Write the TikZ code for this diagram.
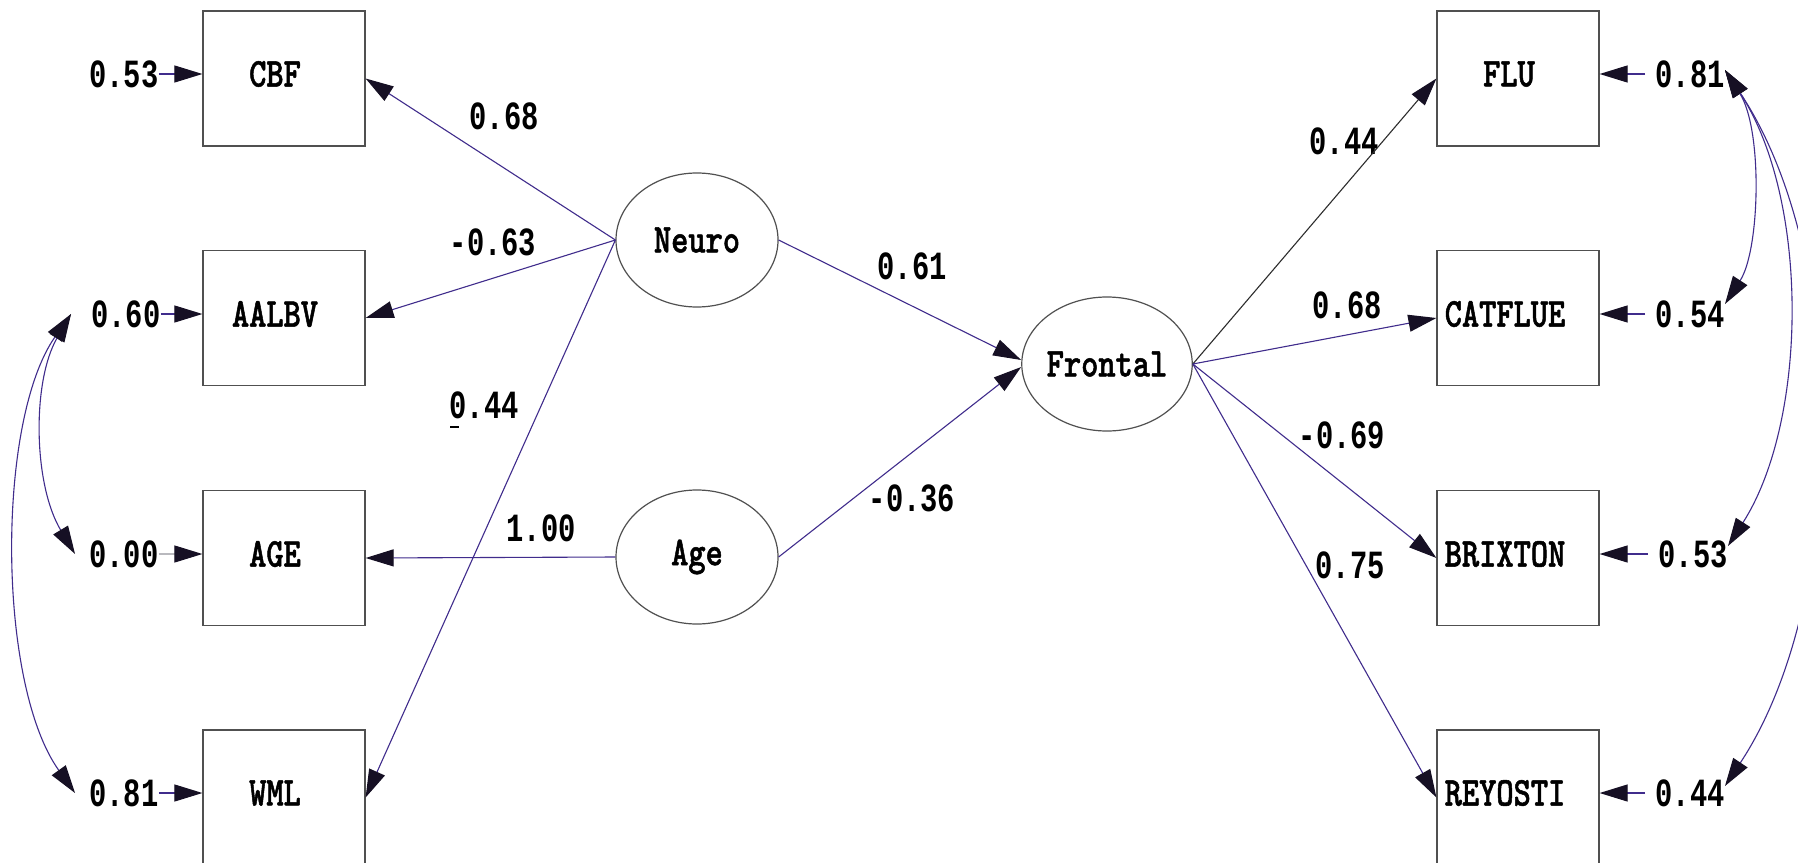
\documentclass[tikz,border=0pt]{standalone}
\usepackage{fontspec}
\usepackage{graphicx}
\usetikzlibrary{arrows.meta,shapes.geometric}
\newfontfamily\numfont[FakeStretch=0.72]{Liberation Mono}
\newfontfamily\boxfont[FakeStretch=0.8,FakeBold=1.2]{lmmonolt10-bold.otf}
\definecolor{pathcol}{RGB}{64,44,140}
\definecolor{tipcol}{RGB}{22,16,36}
\definecolor{boxcol}{RGB}{80,80,80}
\definecolor{faintcol}{RGB}{185,185,190}
\definecolor{darkcol}{RGB}{45,45,45}
\newcommand\vlab[1]{{\boxfont\fontsize{20.5}{21}\selectfont #1}}
\begin{document}
\begin{tikzpicture}[x=0.5pt,y=-0.5pt,
  semtip/.tip={Triangle[length=14pt,width=8.5pt,color=tipcol,fill=tipcol]},
  obs/.style={draw=boxcol,line width=0.6pt,minimum width=81pt,minimum height=67.5pt,inner sep=0pt},
  lat/.style={ellipse,draw=boxcol,line width=0.6pt,minimum width=81pt,minimum height=67pt,inner sep=0pt},
  vt/.style={inner sep=0pt},
  num/.style={inner sep=0pt,font=\numfont\bfseries\fontsize{20}{20}\selectfont},
  pth/.style={draw=pathcol,line width=0.55pt,arrows={-semtip}},
  cov/.style={draw=pathcol,line width=0.55pt,arrows={semtip-semtip}}]
\fill[white] (0,0) rectangle (1798,862);
\useasboundingbox (0,0) rectangle (1798,862);
\clip (0,0) rectangle (1798,862);

% observed variables
\node[obs] (cbf) at (284,78.5) {};
\node[obs] (aalbv) at (284,318) {};
\node[obs] (agev) at (284,558) {};
\node[obs] (wml) at (284,797.5) {};
\node[obs] (flu) at (1518,78.5) {};
\node[obs] (catflue) at (1518,318) {};
\node[obs] (brixton) at (1518,558) {};
\node[obs] (reyosti) at (1518,797.5) {};
\node[vt] (cbf-t) at (275,74) {\vlab{CBF}};
\node[vt] (aalbv-t) at (275,314) {\vlab{AALBV}};
\node[vt] (agev-t) at (275,554) {\vlab{AGE}};
\node[vt] (wml-t) at (275,793) {\vlab{WML}};
\node[vt] (flu-t) at (1509,74) {\vlab{FLU}};
\node[vt] (catflue-t) at (1505,314) {\vlab{CATFLUE}};
\node[vt] (brixton-t) at (1505,554) {\vlab{BRIXTON}};
\node[vt] (reyosti-t) at (1505,793) {\vlab{REYOSTI}};

% latent variables
\node[lat] (neuro) at (697,240) {\vlab{Neuro}};
\node[lat] (age) at (697,557) {\vlab{Age}};
\node[lat] (frontal) at (1107,364) {\vlab{Frontal}};

% error variances
\node[num] (e1) at (124,74) {0.53};
\node[num] (e2) at (126,314) {0.60};
\node[num] (e3) at (124,554) {0.00};
\node[num] (e4) at (124,793) {0.81};
\node[num] (r1) at (1690,74) {0.81};
\node[num] (r2) at (1690,314) {0.54};
\node[num] (r3) at (1693,554) {0.53};
\node[num] (r4) at (1690,793) {0.44};

\draw[pth] (e1.east) -- (cbf.west |- e1.east);
\draw[pth] (e2.east) -- (aalbv.west |- e2.east);
\draw[pth,draw=faintcol] (e3.east) -- (agev.west |- e3.east);
\draw[pth] (e4.east) -- (wml.west |- e4.east);
\draw[pth] ([xshift=-5pt]r1.west) -- (flu.east |- r1.west);
\draw[pth] ([xshift=-5pt]r2.west) -- (catflue.east |- r2.west);
\draw[pth] ([xshift=-5pt]r3.west) -- (brixton.east |- r3.west);
\draw[pth] ([xshift=-5pt]r4.west) -- (reyosti.east |- r4.west);

% coefficients
\node[num] (p1) at (504,116) {0.68};
\node[num] (p2) at (493,242) {-0.63};
\node[num] (p3) at (484,405) {0.44};
\node[num] (p4) at (541,528) {1.00};
\node[num] (p5) at (912,266) {0.61};
\node[num] (p6) at (912,498) {-0.36};
\node[num] (p7) at (1344,141) {0.44};
\node[num] (p8) at (1347,305) {0.68};
\node[num] (p9) at (1342,435) {-0.69};
\node[num] (p10) at (1350,565) {0.75};
\draw[line width=1pt,black] ([shift={(-34,22)}]p3.center) -- ++(9,0);

% paths
\draw[pth] (neuro.west) -- (cbf.east);
\draw[pth] (neuro.west) -- (aalbv.east);
\draw[pth] (neuro.west) -- (wml.east);
\draw[pth] (age.west) -- (agev.east);
\draw[pth] (neuro.east) -- ([yshift=2pt]frontal.west);
\draw[pth] (age.east) -- ([yshift=-1.5pt]frontal.west);
\draw[pth,draw=darkcol] (frontal.east) -- (flu.west);
\draw[pth] (frontal.east) -- (catflue.west);
\draw[pth] (frontal.east) -- (brixton.west);
\draw[pth] (frontal.east) -- (reyosti.west);

% covariances
\coordinate (l60) at ([xshift=-10pt]e2.west);
\coordinate (l00) at ([xshift=-7pt]e3.west);
\coordinate (l81) at ([xshift=-7pt]e4.west);
\draw[cov] (l60) .. controls +(-75,107) and +(-78,-109) .. (l81);
\draw[cov] (l60) .. controls +(-39,67) and +(-42,-70) .. (l00);
\coordinate (q81) at ([yshift=2pt]r1.east);
\coordinate (q54) at ([yshift=5pt]r2.east);
\coordinate (q53) at ([yshift=4pt]r3.east);
\coordinate (q44) at ([yshift=3.5pt]r4.east);
\draw[cov] (q81) .. controls +(38,60) and +(35,-54) .. (q54);
\draw[cov] (q81) .. controls +(85,130) and +(80,-125) .. (q53);
\draw[cov] (q81) .. controls +(126,190) and +(123,-186) .. (q44);
\end{tikzpicture}
\end{document}
